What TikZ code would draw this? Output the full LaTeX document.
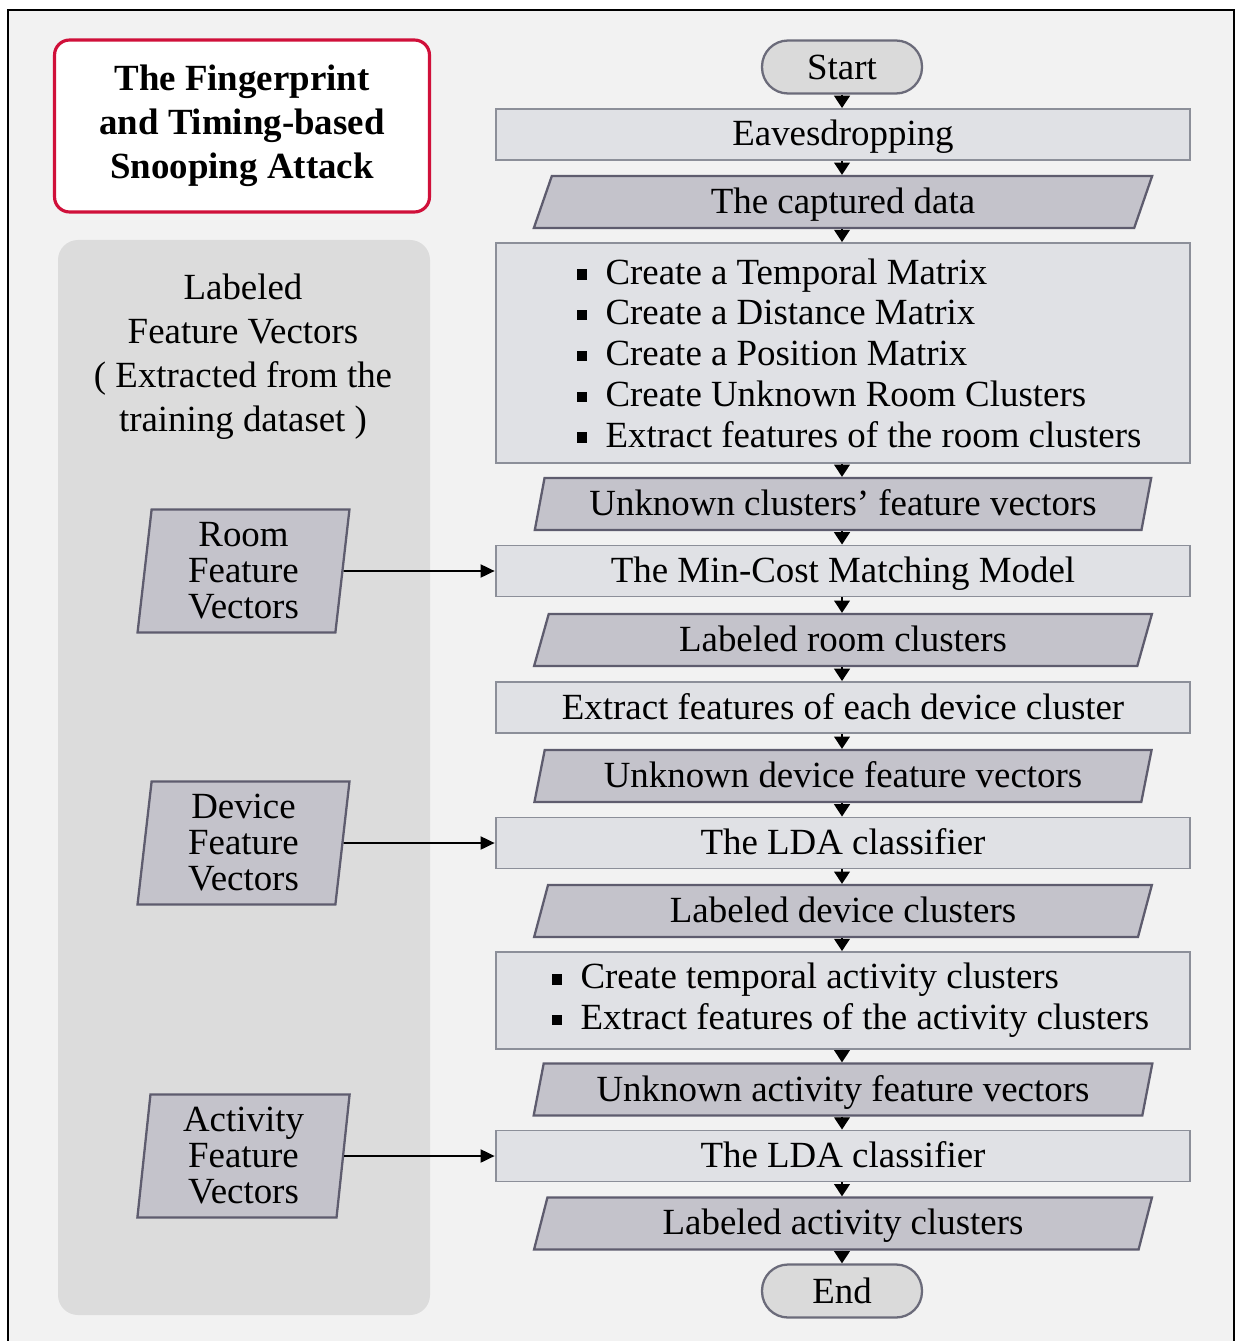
\documentclass[tikz,border=0pt]{standalone}
\usepackage{fontspec}
\setmainfont{Liberation Serif}
\usetikzlibrary{shapes.geometric,arrows.meta,positioning}

\definecolor{bggray}{HTML}{F2F2F2}
\definecolor{panelgray}{HTML}{DCDCDC}
\definecolor{procfill}{HTML}{E0E1E5}
\definecolor{procline}{HTML}{8C8F99}
\definecolor{datafill}{HTML}{C4C3CB}
\definecolor{dataline}{HTML}{5E5C6E}
\definecolor{pillfill}{HTML}{DADADA}
\definecolor{pillline}{HTML}{6B6B7A}
\definecolor{titlered}{HTML}{D0103A}

\newcommand{\sqitem}{\rule[0.12em]{0.28em}{0.28em}\hspace{0.5em}}

\tikzset{
  basefont/.style={font=\fontsize{21}{25}\selectfont},
  procbox/.style={basefont, draw=procline, fill=procfill, line width=1.1pt,
    minimum width=13.9cm, minimum height=1.02cm, inner sep=0pt, text depth=0.35ex},
  databox/.style={basefont, trapezium, trapezium left angle=74, trapezium right angle=106,
    trapezium stretches=true, draw=dataline, fill=datafill, line width=1.3pt,
    minimum width=12.38cm, minimum height=1.04cm, inner sep=0pt, text depth=0.35ex},
  pillbox/.style={basefont, draw=pillline, fill=pillfill, line width=1.3pt,
    rounded corners=0.52cm, minimum width=3.2cm, minimum height=1.06cm, inner sep=0pt},
  vecbox/.style={font=\fontsize{21}{20.5}\selectfont, align=center, trapezium,
    trapezium left angle=85, trapezium right angle=95, trapezium stretches=true,
    draw=dataline, fill=datafill, line width=1.3pt,
    minimum width=4.26cm, minimum height=2.46cm, inner sep=0pt},
  flow/.style={-{Triangle[width=9pt,length=7pt]}, line width=0.8pt},
  link/.style={-{Triangle[width=7.5pt,length=8pt]}, line width=0.9pt}
}

\begin{document}
\begin{tikzpicture}[x=0.02cm, y=-0.02cm]
\useasboundingbox (0,0) rectangle (1236,1341);
\fill[white] (0,0) rectangle (1236,1341);
\fill[bggray] (8,10) rectangle (1234,1360);
\draw[line width=1.2pt] (8,1360) -- (8,10) -- (1234,10) -- (1234,1360);

% title and left panel
\node[draw=titlered, fill=white!97!bggray, line width=1.8pt, rounded corners=0.3cm,
  minimum width=7.5cm, minimum height=3.44cm, align=center,
  font=\fontsize{21}{25}\selectfont\bfseries] (title) at (242,126)
  {The Fingerprint\\and Timing-based\\Snooping Attack};
\fill[panelgray, rounded corners=0.4cm] (58,240) rectangle (430,1315);
\node[basefont, align=center] (labeled) at (243,357)
  {Labeled\\Feature Vectors\\( Extracted from the\\training dataset )};

\node[vecbox] (roomvec) at (243.5,571) {Room\\Feature\\Vectors};
\node[vecbox] (devvec) at (243.5,843) {Device\\Feature\\Vectors};
\node[vecbox] (actvec) at (243.5,1156) {Activity\\Feature\\Vectors};

% main flow
\node[pillbox] (start) at (842,67) {Start};
\node[procbox] (eaves) at (843,134.5) {Eavesdropping};
\node[databox] (capt) at (843,202) {The captured data};
\node[procbox, minimum height=4.4cm] (feat) at (843,353) {};
\node[basefont, anchor=west, align=left, font=\fontsize{21}{23.2}\selectfont]
  (featlist) at ([xshift=1.52cm]feat.west)
  {\sqitem Create a Temporal Matrix\\
   \sqitem Create a Distance Matrix\\
   \sqitem Create a Position Matrix\\
   \sqitem Create Unknown Room Clusters\\
   \sqitem Extract features of the room clusters};
\node[databox] (ucfv) at (843,504) {Unknown clusters’ feature vectors};
\node[procbox] (match) at (843,571) {The Min-Cost Matching Model};
\node[databox] (lrc) at (843,640) {Labeled room clusters};
\node[procbox] (edf) at (843,707.5) {Extract features of each device cluster};
\node[databox] (udfv) at (843,776) {Unknown device feature vectors};
\node[procbox] (lda1) at (843,843) {The LDA classifier};
\node[databox] (ldc) at (843,911) {Labeled device clusters};
\node[procbox, minimum height=1.94cm] (act) at (843,1000.5) {};
\node[basefont, anchor=west, align=left, font=\fontsize{21}{23.2}\selectfont]
  (actlist) at ([xshift=1.02cm]act.west)
  {\sqitem Create temporal activity clusters\\
   \sqitem Extract features of the activity clusters};
\node[databox] (uafv) at (843,1089.5) {Unknown activity feature vectors};
\node[procbox] (lda2) at (843,1156) {The LDA classifier};
\node[databox] (lac) at (843,1223.5) {Labeled activity clusters};
\node[pillbox] (stop) at (842,1291) {End};

\foreach \a/\b in {start/eaves, eaves/capt, capt/feat, feat/ucfv, ucfv/match,
  match/lrc, lrc/edf, edf/udfv, udfv/lda1, lda1/ldc, ldc/act, act/uafv,
  uafv/lda2, lda2/lac, lac/stop}
  \draw[flow] (\a.south -| start.south) -- (\b.north -| start.south);

\draw[link] (roomvec) -- (match);
\draw[link] (devvec) -- (lda1);
\draw[link] (actvec) -- (lda2);
\end{tikzpicture}
\end{document}
